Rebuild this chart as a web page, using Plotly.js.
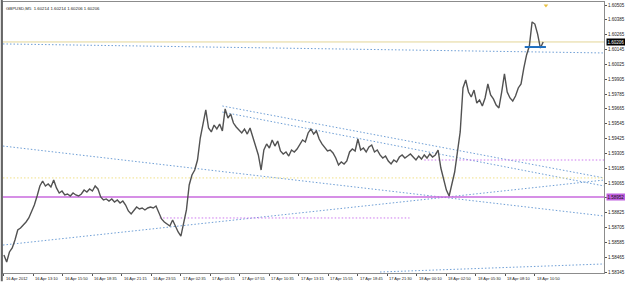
<!DOCTYPE html>
<html>
<head>
<meta charset="utf-8">
<script src="https://cdn.plot.ly/plotly-3.0.1.min.js"></script>
<style>html,body{margin:0;padding:0;background:#fff;}#chart{width:625px;height:282px;}</style>
</head>
<body>
<div id="chart"></div>
<script>
// ---- data ----
const chartTitle = "GBPUSD,M5  1.60214 1.60214 1.60206 1.60206";
const barStep = 3; // one sampled close every 3 M5 bars
const closes = [
1.58483,1.58426,1.58507,1.58539,1.58604,1.58685,1.58701,1.58725,1.58750,1.58782,
1.58830,1.58887,1.58960,1.59041,1.59081,1.59041,1.59057,1.59033,1.59089,1.59025,
1.58984,1.59000,1.58968,1.58976,1.58960,1.58984,1.58968,1.58960,1.58976,1.59008,
1.58992,1.59017,1.59000,1.59041,1.59017,1.58952,1.58928,1.58936,1.58919,1.58936,
1.58911,1.58928,1.58903,1.58919,1.58887,1.58839,1.58814,1.58847,1.58871,1.58855,
1.58863,1.58847,1.58863,1.58871,1.58863,1.58879,1.58830,1.58774,1.58750,1.58733,
1.58717,1.58766,1.58717,1.58669,1.58636,1.58750,1.58847,1.59049,1.59130,1.59170,
1.59251,1.59429,1.59559,1.59656,1.59510,1.59478,1.59534,1.59502,1.59542,1.59486,
1.59664,1.59591,1.59623,1.59550,1.59518,1.59494,1.59470,1.59502,1.59461,1.59510,
1.59429,1.59364,1.59292,1.59170,1.59332,1.59381,1.59348,1.59413,1.59364,1.59405,
1.59324,1.59300,1.59316,1.59283,1.59332,1.59316,1.59340,1.59381,1.59413,1.59397,
1.59470,1.59502,1.59461,1.59486,1.59421,1.59381,1.59356,1.59324,1.59332,1.59308,
1.59267,1.59211,1.59235,1.59219,1.59243,1.59316,1.59340,1.59324,1.59421,1.59332,
1.59348,1.59316,1.59356,1.59372,1.59316,1.59332,1.59292,1.59267,1.59283,1.59243,
1.59219,1.59251,1.59235,1.59275,1.59292,1.59267,1.59283,1.59300,1.59275,1.59251,
1.59283,1.59259,1.59292,1.59267,1.59300,1.59275,1.59292,1.59332,1.59186,1.59089,
1.59008,1.58960,1.59049,1.59154,1.59316,1.59478,1.59834,1.59898,1.59801,1.59761,
1.59817,1.59712,1.59737,1.59688,1.59753,1.59866,1.59777,1.59745,1.59696,1.59672,
1.59801,1.59947,1.59801,1.59753,1.59728,1.59769,1.59834,1.59866,1.59995,1.60101,
1.60173,1.60368,1.60351,1.60270,1.60157,1.60206
];
const xTickBars = [0,32,64,96,128,160,192,224,256,288,320,352,384,416,448,480,512,544,576];
const xTickLabels = ["16 Apr 2012","16 Apr 13:10","16 Apr 15:50","16 Apr 18:35","16 Apr 21:15",
  "16 Apr 23:55","17 Apr 02:35","17 Apr 05:15","17 Apr 07:55","17 Apr 10:35","17 Apr 13:15",
  "17 Apr 15:55","17 Apr 18:45","17 Apr 21:30","18 Apr 00:10","18 Apr 02:50","18 Apr 05:30",
  "18 Apr 08:10","18 Apr 10:50"];
const yTickLabels = ["1.58345","1.58465","1.58585","1.58705","1.58825","1.58945","1.59065",
  "1.59185","1.59305","1.59425","1.59545","1.59665","1.59785","1.59905","1.60025","1.60145",
  "1.60265","1.60385","1.60505"];
const bidPrice = 1.60206;
const levelPrice = 1.58952;      // solid violet level
const yellowDotPrice = 1.59106;
const violetDotA = {bars:[169,440], price:1.58782};
const violetDotB = {bars:[456,651], price:1.59251};
const blueSegment = {bars:[565,588], price:1.60165};
const trendTop    = {bars:[-1,651], prices:[1.60190,1.60117]};
const trendDown   = {bars:[-1,651], prices:[1.59364,1.58798]};
const trendUp     = {bars:[-1,651], prices:[1.58563,1.59089]};
const wedgeA      = {bars:[237,651], prices:[1.59688,1.59106]};
const wedgeB      = {bars:[237,651], prices:[1.59639,1.59041]};
const trendBottom = {bars:[408,651], prices:[1.58345,1.58410]};
const alertMark   = {bar:588, price:1.60500};

// ---- build ----
const xBars = closes.map((_, i) => i * barStep);
const xRange = [-1, 651];
const blue = '#6f9fd6';
const dotted = '1.5px,2px';
function seg(bars, prices, color, width, dash) {
  return {type:'scatter', mode:'lines', x:bars, y:prices, hoverinfo:'skip',
    line:{color:color, width:width, dash:dash || 'solid'}};
}
const traces = [
  seg(xRange, [bidPrice,bidPrice], '#e3d596', 1),
  seg(trendTop.bars, trendTop.prices, blue, 1, dotted),
  seg(trendDown.bars, trendDown.prices, blue, 1, dotted),
  seg(trendUp.bars, trendUp.prices, blue, 1, dotted),
  seg(wedgeA.bars, wedgeA.prices, blue, 1, dotted),
  seg(wedgeB.bars, wedgeB.prices, blue, 1, dotted),
  seg(trendBottom.bars, trendBottom.prices, blue, 1, dotted),
  seg(xRange, [yellowDotPrice,yellowDotPrice], '#f0e08a', 1, dotted),
  seg(violetDotA.bars, [violetDotA.price,violetDotA.price], '#cc77ee', 1, dotted),
  seg(violetDotB.bars, [violetDotB.price,violetDotB.price], '#cc77ee', 1, dotted),
  seg(xRange, [levelPrice,levelPrice], '#c96ade', 1.5),
  {type:'scatter', mode:'lines', x:xBars, y:closes, hoverinfo:'skip',
    line:{color:'#525252', width:1.4}},
  seg(blueSegment.bars, [blueSegment.price,blueSegment.price], '#1f6fbf', 2),
  {type:'scatter', mode:'markers', x:[alertMark.bar], y:[alertMark.price], hoverinfo:'skip',
    marker:{symbol:'triangle-down', size:4, color:'#e8c040'}, cliponaxis:false}
];

const font = 'Liberation Sans, Arial, sans-serif';
const annotations = xTickBars.map((b, i) => ({
  x:b, xref:'x', y:0, yref:'paper', text:xTickLabels[i], showarrow:false,
  xanchor:'left', yanchor:'top', xshift:0, yshift:-1,
  font:{family:font, size:4, color:'#222'}
}));
annotations.push({x:0, xref:'paper', y:1, yref:'paper', text:chartTitle, showarrow:false,
  xanchor:'left', yanchor:'top', xshift:1, yshift:-2, font:{family:font, size:4.3, color:'#222'}});
annotations.push({x:1, xref:'paper', y:bidPrice, yref:'y', text:bidPrice.toFixed(5), showarrow:false,
  xanchor:'left', yanchor:'middle', xshift:2, bgcolor:'#000', borderpad:0.5,
  font:{family:font, size:4.5, color:'#fff'}});
annotations.push({x:1, xref:'paper', y:levelPrice, yref:'y', text:levelPrice.toFixed(5), showarrow:false,
  xanchor:'left', yanchor:'middle', xshift:2, bgcolor:'#c060e0', borderpad:0.5,
  font:{family:font, size:4.5, color:'#111'}});

const layout = {
  width:625, height:282,
  margin:{l:3, r:21, t:2, b:9},
  paper_bgcolor:'#fff', plot_bgcolor:'#fff',
  showlegend:false,
  xaxis:{range:xRange, showgrid:false, zeroline:false, showline:true, mirror:true,
    linecolor:'#8c8c8c', linewidth:1, ticks:'outside', ticklen:2, tickcolor:'#555',
    tickvals:xTickBars, showticklabels:false, fixedrange:true},
  yaxis:{side:'right', range:[1.583369, 1.605293], showgrid:false, zeroline:false,
    showline:true, mirror:true, linecolor:'#8c8c8c', linewidth:1,
    ticks:'outside', ticklen:2, tickcolor:'#555',
    tickvals:yTickLabels.map(Number), ticktext:yTickLabels,
    tickfont:{family:font, size:4.5, color:'#222'}, fixedrange:true},
  annotations:annotations,
  shapes:[{type:'line', xref:'paper', yref:'paper', x0:-0.002, x1:-0.002, y0:-0.03, y1:1.01,
    line:{color:'#666', width:2}}]
};
Plotly.newPlot('chart', traces, layout, {staticPlot:true, displayModeBar:false});
</script>
</body>
</html>
